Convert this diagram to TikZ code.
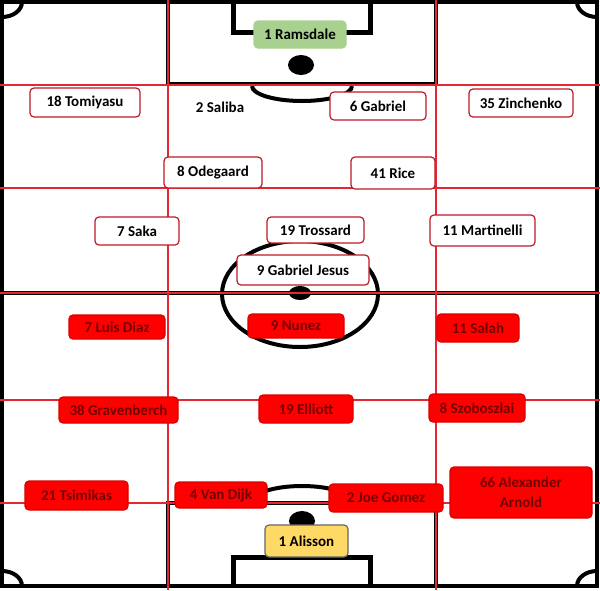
\documentclass[tikz,border=0pt]{standalone}
\usepackage{fontspec}
\setmainfont{Carlito}
\definecolor{GridClr}{rgb}{0.9,0.15,0.2}
\definecolor{BoxClr}{rgb}{0.75,0.1,0.15}
\definecolor{RedClr}{rgb}{1,0,0}
\definecolor{RedTxtClr}{rgb}{0.45,0,0}
\definecolor{KeeperClr}{rgb}{0.66,0.82,0.56}
\definecolor{GoalieClr}{rgb}{1,0.85,0.4}

\begin{document}
\begin{tikzpicture}[x=1pt,y=-1pt,
  pitchline/.style={line width=4pt,color=black},
  gridline/.style={line width=1.6pt,color=GridClr},
  player/.style={draw=BoxClr,line width=1.2pt,fill=white,rounded corners=4pt,inner sep=0pt,
    font=\fontsize{15}{20}\selectfont\bfseries,text=black},
  redplayer/.style={player,fill=RedClr,draw=RedClr!85!black,text=RedTxtClr}]
\useasboundingbox[fill=white] (0,0) rectangle (600,590);

\draw[pitchline] (2,2) rectangle (597,586);
\draw[pitchline] (168,2) -- (168,84) -- (436,84) -- (436,2);
\draw[pitchline,line width=5pt] (233,2) -- (233,32) -- (370,32) -- (370,2);
\fill (301,65) ellipse[x radius=13,y radius=10];
\draw[pitchline] (252,86) arc[start angle=180,end angle=0,x radius=50,y radius=15];
\draw[pitchline] (2,293) -- (597,293);
\draw[pitchline] (300,294) ellipse[x radius=78,y radius=53];
\fill (300,293) ellipse[x radius=11,y radius=7];
\draw[pitchline] (168,586) -- (168,503) -- (436,503) -- (436,586);
\draw[pitchline] (252,502) arc[start angle=180,end angle=360,x radius=50,y radius=16];
\draw[pitchline,line width=5pt] (233,586) -- (233,557) -- (370,557) -- (370,586);
\fill (302,521) ellipse[x radius=13,y radius=10];
\draw[pitchline] (2,17) arc[start angle=90,end angle=0,x radius=20,y radius=15];
\draw[pitchline] (577,2) arc[start angle=180,end angle=90,x radius=20,y radius=15];
\draw[pitchline] (2,571) arc[start angle=270,end angle=360,x radius=20,y radius=15];
\draw[pitchline] (577,586) arc[start angle=180,end angle=270,x radius=20,y radius=15];

\foreach \gx in {168,436}
  \draw[gridline] (\gx,0) -- (\gx,590);
\foreach \gy in {85,188,293,400,503}
  \draw[gridline] (0,\gy) -- (600,\gy);

\node[player,fill=KeeperClr,draw=KeeperClr,minimum width=92,minimum height=27] (ramsdale) at (300,34.5) {1 Ramsdale};
\node[player,minimum width=110,minimum height=29] (tomiyasu) at (85,102.5) {18 Tomiyasu};
\node[font=\fontsize{15}{20}\selectfont\bfseries] (saliba) at (220,107) {2 Saliba};
\node[player,minimum width=96,minimum height=28] (gabriel) at (378,106) {6 Gabriel};
\node[player,minimum width=104,minimum height=28] (zinchenko) at (521,103) {35 Zinchenko};
\node[player,minimum width=98,minimum height=31] (odegaard) at (213,172.5) {8 Odegaard};
\node[player,minimum width=84,minimum height=32] (rice) at (393,173) {41 Rice};
\node[player,minimum width=84,minimum height=28] (saka) at (137,231) {7 Saka};
\node[player,minimum width=97,minimum height=26] (trossard) at (315.5,230) {19 Trossard};
\node[player,minimum width=105,minimum height=31] (martinelli) at (482.5,230.5) {11 Martinelli};
\node[player,minimum width=132,minimum height=30] (jesus) at (303,270) {9 Gabriel Jesus};

\node[redplayer,minimum width=96,minimum height=24] (diaz) at (117,327) {7 Luis Diaz};
\node[redplayer,minimum width=96,minimum height=24] (nunez) at (296,326) {9 Nunez};
\node[redplayer,minimum width=82,minimum height=28] (salah) at (478,328) {11 Salah};
\node[redplayer,minimum width=119,minimum height=26] (gravenberch) at (118.5,410) {38 Gravenberch};
\node[redplayer,minimum width=94,minimum height=28] (elliott) at (306,409) {19 Elliott};
\node[redplayer,minimum width=96,minimum height=28] (szoboszlai) at (477,408) {8 Szoboszlai};
\node[redplayer,minimum width=103,minimum height=29] (tsimikas) at (76.5,495.5) {21 Tsimikas};
\node[redplayer,minimum width=92,minimum height=26] (vandijk) at (221,495) {4 Van Dijk};
\node[redplayer,minimum width=114,minimum height=28] (gomez) at (386,498) {2 Joe Gomez};
\node[redplayer,minimum width=142,minimum height=51,align=center] (arnold) at (521,492.5) {66 Alexander\\Arnold};
\node[player,fill=GoalieClr,draw=black!60,minimum width=83,minimum height=32] (alisson) at (306.5,541) {1 Alisson};

\end{tikzpicture}
\end{document}
